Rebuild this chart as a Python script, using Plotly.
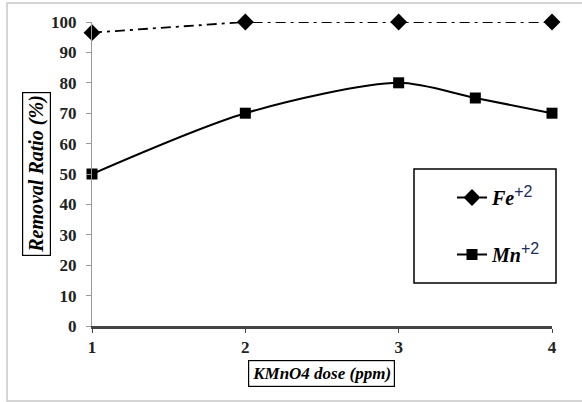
import plotly.graph_objects as go

# Data
fe_x = [1, 2, 3, 4]
fe_y = [96.5, 100, 100, 100]
mn_x = [1, 2, 3, 3.5, 4]
mn_y = [50, 70, 80, 75, 70]
y_ticks = [0, 10, 20, 30, 40, 50, 60, 70, 80, 90, 100]
x_ticks = [1, 2, 3, 4]

W, H = 582, 402
L, R, T, B = 92, 30, 22, 76
pw, ph = W - L - R, H - T - B

def px(x):
    return (x - L) / pw

def py(y):
    return (H - B - y) / ph

serif = "Liberation Serif, Times New Roman, serif"
sup = ("<sup><span style='font-family:Liberation Sans, Arial, sans-serif;"
       "font-style:normal;font-size:16px;color:#1c2c5c'>+2</span></sup>")

fig = go.Figure()
fig.add_trace(go.Scatter(
    x=fe_x, y=fe_y, mode="lines+markers",
    name="<b><i>Fe</i></b>" + sup,
    line=dict(color="black", width=1.8, dash="10px,5px,3px,5px"),
    marker=dict(symbol="diamond", size=13, color="black"),
    cliponaxis=False, legendgroup="fe",
))
fig.add_trace(go.Scatter(
    x=mn_x, y=mn_y, mode="lines+markers",
    name="<b><i>Mn</i></b>" + sup,
    line=dict(color="black", width=2, shape="spline", smoothing=0.8),
    marker=dict(symbol="square", size=11, color="black"),
    cliponaxis=False, legendgroup="mn",
))

fig.update_layout(
    width=W, height=H,
    margin=dict(l=L, r=R, t=T, b=B),
    paper_bgcolor="white", plot_bgcolor="white",
    font=dict(family=serif, color="black"),
    showlegend=True,
    legend=dict(
        x=px(452), y=py(178), xanchor="left", yanchor="top",
        bgcolor="rgba(0,0,0,0)", borderwidth=0,
        font=dict(family=serif, size=20, color="black"),
        tracegroupgap=28, itemwidth=30,
    ),
    xaxis=dict(
        range=[1, 4], tickvals=x_ticks, ticktext=[str(v) for v in x_ticks],
        showgrid=False, zeroline=False,
        showline=True, linecolor="#444444", linewidth=2.5,
        ticks="outside", ticklen=4, tickcolor="#444444", tickwidth=1,
        tickfont=dict(family=serif, size=17, color="#222222", weight="bold"),
        fixedrange=True,
    ),
    yaxis=dict(
        range=[0, 100], tickvals=y_ticks,
        showgrid=False, zeroline=False,
        showline=True, linecolor="#999999", linewidth=1,
        ticks="outside", ticklen=5, tickcolor="#999999", tickwidth=1,
        tickfont=dict(family=serif, size=17, color="#222222", weight="bold"),
        ticklabelstandoff=6,
        fixedrange=True,
    ),
    shapes=[
        # outer frame
        dict(type="rect", xref="paper", yref="paper",
             x0=px(7), x1=px(590), y0=py(401), y1=py(3),
             line=dict(color="#c8c8c8", width=1.5), layer="below"),
        # legend box
        dict(type="rect", xref="paper", yref="paper",
             x0=px(414), x1=px(556), y0=py(283), y1=py(169),
             line=dict(color="black", width=1.5)),
    ],
    annotations=[
        dict(text="<b><i>KMnO4 dose (ppm)</i></b>", xref="paper", yref="paper",
             x=px(321), y=py(373), xanchor="center", yanchor="middle",
             showarrow=False,
             font=dict(family=serif, size=17, color="black"),
             bordercolor="black", borderwidth=1.2, borderpad=3, bgcolor="white"),
        dict(text="<b><i>Removal Ratio (%)</i></b>", xref="paper", yref="paper",
             x=px(36), y=py(174), xanchor="center", yanchor="middle",
             showarrow=False, textangle=-90,
             font=dict(family=serif, size=20, color="black"),
             bordercolor="black", borderwidth=1.2, borderpad=2, bgcolor="white"),
    ],
)

fig.write_html("out.html", config={"displayModeBar": False},
               post_script="document.body.style.margin='0';")
